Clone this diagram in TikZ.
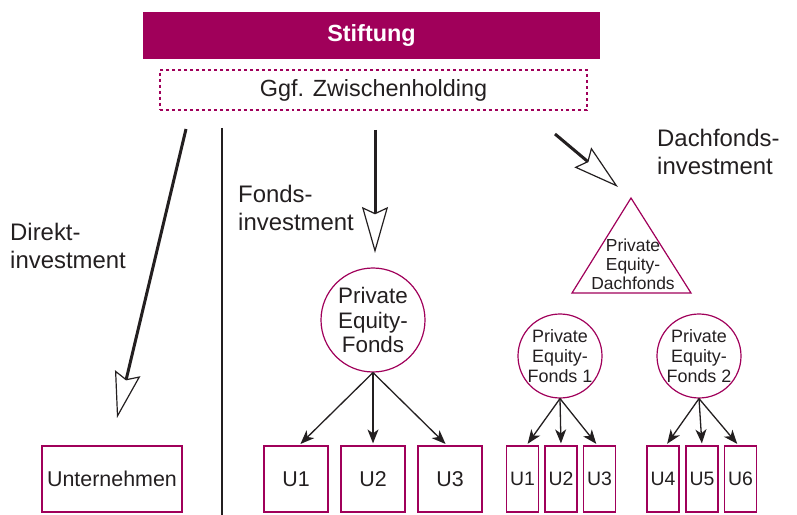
\documentclass[tikz,border=0pt]{standalone}
\usepackage{fontspec}
\usepackage{pdfrender}
\setmainfont{Liberation Sans}
\newfontfamily\boldface{Liberation Sans Bold}
\newcommand\medw{\pdfrender{TextRenderingMode=FillStroke,LineWidth=0.45bp}}
\usetikzlibrary{arrows.meta,calc}
\definecolor{mag}{HTML}{A0005A}
\definecolor{ink}{HTML}{231F20}
\tikzset{
  bigarrow/.style={line width=3bp, draw=ink, -{Stealth[open, length=46bp, width=26bp, inset=6bp, line width=1.2bp]}},
  smallarrow/.style={line width=1.3bp, draw=ink, -{Stealth[length=14bp, width=11bp, inset=4bp]}, shorten >=2bp},
  bigbox/.style={draw=mag, line width=1.2bp, rectangle, minimum height=66bp, inner sep=0pt, text=ink, font=\fontsize{21.5}{24}\selectfont\medw},
  smallbox/.style={draw=mag, line width=1.2bp, rectangle, minimum width=32bp, minimum height=66bp, inner sep=0pt, text=ink, font=\fontsize{19.5}{22}\selectfont\medw},
  bigcirc/.style={draw=mag, line width=1.2bp, circle, minimum size=104bp, inner sep=0pt, align=center, text=ink, font=\fontsize{22.5}{25}\selectfont\medw},
  smallcirc/.style={draw=mag, line width=1.2bp, circle, minimum size=84bp, inner sep=0pt, align=center, text=ink, font=\fontsize{18}{20}\selectfont\medw},
  lbl/.style={align=left, anchor=west, text=ink, inner sep=0pt, font=\fontsize{24}{28}\selectfont\medw}
}
\begin{document}
\begin{tikzpicture}[x=1bp,y=-1bp]
\useasboundingbox (0,0) rectangle (797,515);
% top
\node[fill=mag, minimum width=457bp, minimum height=47bp, inner sep=0pt, text=white, font=\fontsize{23.5}{26}\boldface] (stift) at (371.5,35.5) {Stiftung};
\node[draw=mag, dashed, line width=1.1bp, minimum width=427bp, minimum height=40bp, inner sep=0pt, text=ink, font=\fontsize{23.5}{26}\selectfont\medw] (zw) at (373.5,90) {Ggf. Zwischenholding};
% direct investment
\coordinate (d1) at (186,129);
\coordinate (d2) at (117,418);
\draw[bigarrow] (d1) -- (d2);
\node[lbl] (dlbl) at (10,246) {Direkt-\\investment};
\node[bigbox, minimum width=140bp] (unt) at (112,479) {Unternehmen};
% separator
\coordinate (s1) at (222,128);
\coordinate (s2) at (222,515);
\draw[line width=2bp, draw=ink] (s1) -- (s2);
% fonds investment
\coordinate (f1) at (375,130);
\coordinate (f2) at (375,253);
\draw[bigarrow] (f1) -- (f2);
\node[lbl] (flbl) at (238,208) {Fonds-\\investment};
\node[bigcirc] (pef) at (373,320) {Private\\Equity-\\Fonds};
\node[bigbox, minimum width=64bp] (b1) at (296,479) {U1};
\node[bigbox, minimum width=64bp] (b2) at (373,479) {U2};
\node[bigbox, minimum width=64bp] (b3) at (450,479) {U3};
\draw[smallarrow] (pef.south) -- ($(b1.north)+(3,0)$);
\draw[smallarrow] (pef.south) -- (b2.north);
\draw[smallarrow] (pef.south) -- ($(b3.north)+(-3,0)$);
% dachfonds
\coordinate (c1) at (555,134);
\coordinate (c2) at (618,187);
\draw[bigarrow] (c1) -- (c2);
\node[lbl] (clbl) at (657,152) {Dachfonds-\\investment};
\coordinate (t1) at (631,198);
\coordinate (t2) at (691,293);
\coordinate (t3) at (572,293);
\draw[draw=mag, line width=1.2bp, line join=miter] (t1) -- (t2) -- (t3) -- cycle;
\node[align=center, text=ink, inner sep=0pt, font=\fontsize{17.5}{19}\selectfont\medw] (dft) at (633,264) {Private\\Equity-\\Dachfonds};
\node[smallcirc] (pe1) at (560,356) {Private\\Equity-\\Fonds 1};
\node[smallcirc] (pe2) at (699,356) {Private\\Equity-\\Fonds 2};
\node[smallbox] (s1b) at (522.5,479) {U1};
\node[smallbox] (s2b) at (561,479) {U2};
\node[smallbox] (s3b) at (599.5,479) {U3};
\node[smallbox] (s4b) at (663,479) {U4};
\node[smallbox] (s5b) at (702,479) {U5};
\node[smallbox] (s6b) at (740.5,479) {U6};
\draw[smallarrow] (pe1.south) -- ($(s1b.north)+(4,0)$);
\draw[smallarrow] (pe1.south) -- (s2b.north);
\draw[smallarrow] (pe1.south) -- ($(s3b.north)+(-2,0)$);
\draw[smallarrow] (pe2.south) -- ($(s4b.north)+(3,0)$);
\draw[smallarrow] (pe2.south) -- (s5b.north);
\draw[smallarrow] (pe2.south) -- ($(s6b.north)+(-2,0)$);
\end{tikzpicture}
\end{document}
